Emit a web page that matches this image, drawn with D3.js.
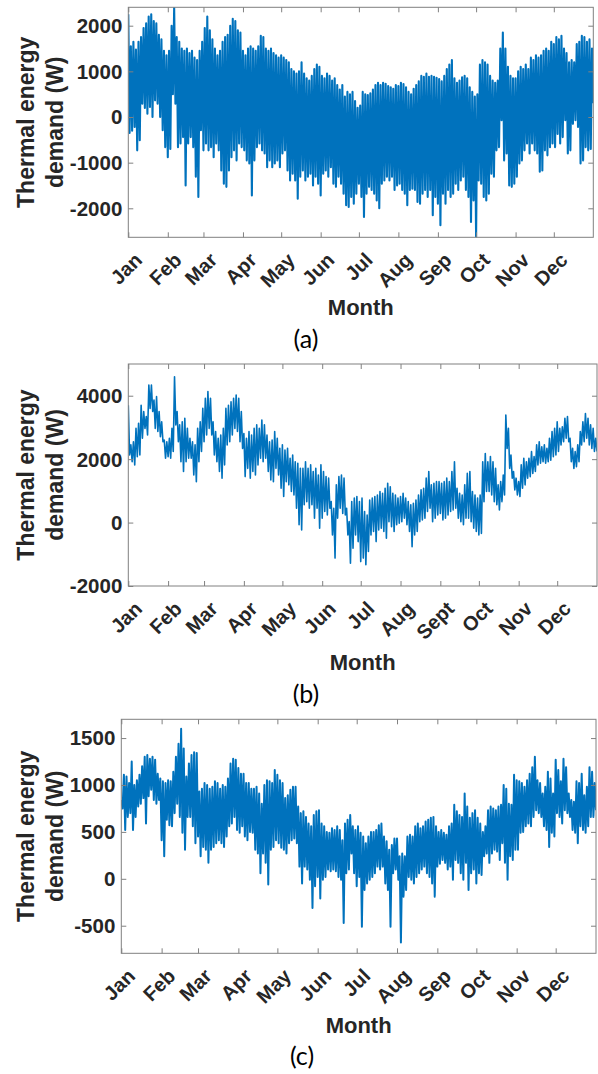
<!DOCTYPE html>
<html><head><meta charset="utf-8">
<script src="https://cdn.jsdelivr.net/npm/d3@7"></script>
<style>body{margin:0;background:#fff}svg{display:block}</style>
</head><body>
<svg id="chart" width="598" height="1074"></svg>
<script>
// ---------- data ----------
// month tick positions (day of year) and labels
const monthDays = [0,31,59,90,120,151,181,212,243,273,304,334];
const monthsA = ["Jan","Feb","Mar","Apr","May","Jun","Jul","Aug","Sep","Oct","Nov","Dec"];
const monthsB = ["Jan","Feb","Mar","Apr","May","Jun","Jul","Aug","Sept","Oct","Nov","Dec"];
const monthsC = ["Jan","Feb","Mar","Apr","May","Jun","Jul","Aug","Sep","Oct","Nov","Dec"];
const yTicksA = [-2000,-1000,0,1000,2000];
const yTicksB = [-2000,0,2000,4000];
const yTicksC = [-500,0,500,1000,1500];
// 2-day samples: upper (hi) and lower (lo) excursions of the hourly demand, W
const hiA = [2250,1550,1650,1480,1650,1750,1950,2050,2200,2250,2100,2050,1800,1700,1450,1350,1450,2000,2400,1750,1650,1500,1450,1500,1400,1450,1300,1250,1450,1650,1950,2200,1900,1700,1500,1350,1450,1650,1750,1800,2000,2150,2100,1900,1850,1450,1350,1500,1550,1500,1450,1550,1780,1750,1500,1450,1500,1400,1350,1300,1350,1300,1250,1200,1050,1000,950,1000,1200,950,850,800,900,1050,1150,1100,900,850,950,900,800,850,700,600,700,450,550,500,550,350,200,250,
550,500,480,520,600,700,750,700,750,730,680,650,620,700,680,750,720,650,550,500,620,700,780,900,880,950,880,900,880,860,830,780,900,1050,1150,1250,850,750,800,870,900,850,650,550,450,500,1150,1250,1200,1150,900,800,750,800,1500,1850,1500,1100,900,850,850,1000,1100,1050,1150,1050,1300,1250,1350,1300,1350,1450,1500,1450,1650,1600,1750,1700,1780,1500,1400,1200,1250,1200,1600,1650,1780,1750,1650,1700,1500];
const loA = [-350,-300,-220,-730,-510,290,200,70,220,0,365,290,0,-290,-660,-880,-700,500,290,-660,-580,-440,-1500,-580,-440,-660,-1310,-1750,-290,-730,-580,-730,-660,-880,-580,-730,-1170,-1460,-1530,-1170,-880,-730,-950,-580,-660,-730,-950,-1020,-1720,-950,-660,-580,-730,-800,-1100,-950,-1100,-1020,-950,-1100,-800,-730,-1170,-1390,-1240,-1390,-1790,-1310,-1170,-1390,-1310,-1240,-1500,-1310,-1460,-1720,-1240,-1170,-1310,-1100,-1460,-1530,-1310,-1460,-1680,-1930,-1970,-1750,-1900,-1680,-1460,
-1750,-2190,-1680,-1530,-1600,-1680,-1830,-2000,-1460,-1390,-1310,-1390,-1310,-1600,-1500,-1460,-1600,-1680,-1930,-1600,-1570,-1600,-1860,-1900,-1680,-1600,-1750,-1600,-2150,-1750,-1900,-2370,-1680,-1900,-1600,-1750,-1680,-1460,-1600,-1390,-1310,-1600,-1750,-2300,-1830,-2630,-1390,-1460,-1750,-1830,-1680,-1240,-1310,-730,-660,-70,-950,-800,-1500,-1530,-1460,-1310,-1020,-950,-730,-580,-800,-580,-730,-800,-1200,-1170,-730,-840,-660,-580,-660,-370,-580,-440,-70,-800,-730,-150,-70,-220,-1020,-950,-660,-730,-700,300];
const hiB = [3700,2450,2550,2970,3130,3700,3500,3340,4340,4340,3860,3970,3500,3180,2600,2550,2660,2970,4600,3500,3080,3180,3290,2970,2660,2550,2450,2970,3180,3600,3920,4130,3920,3180,2870,2660,2760,2970,3600,3700,3810,3920,4020,3920,3500,2810,2660,2870,2760,2970,3080,2970,3230,3080,2760,2550,2600,2870,2660,2340,2450,2290,2340,2030,2130,1920,1870,1710,1710,1920,1710,1820,1610,1710,1500,1820,1610,1450,1400,660,450,1190,1450,1500,1400,450,30,660,770,820,660,
770,350,240,710,770,820,870,980,920,1080,1240,1130,920,870,770,820,920,770,660,560,610,710,870,1030,1080,1400,1610,1190,1240,1290,1290,1240,1290,1400,1290,1610,1920,1080,920,870,1190,1550,1610,980,870,770,870,1920,2180,1920,2080,1920,1710,1190,1290,1500,3390,2970,2130,1610,1400,1290,1820,2030,1920,2030,2240,2080,2450,2550,2390,2450,2340,2660,2870,2970,3180,2970,3020,3290,3340,2660,2340,2240,2450,2870,3180,3440,3290,3080,2970,2660];
const loB = [2130,1920,1820,2080,2130,2660,2970,2760,3600,3500,2970,2870,2710,2550,2030,2080,2030,2240,3080,2550,1920,1610,1920,2030,2030,1500,1290,1920,2240,2550,2760,2970,2760,2130,1920,1610,1400,1820,2450,2550,2760,2970,2870,2550,2340,1450,1710,1400,1610,1500,1820,2030,1920,2030,1610,1340,1290,1710,1500,1080,820,1290,1190,980,870,450,-70,-230,560,660,450,560,140,450,-180,140,350,240,450,-390,-1120,140,450,290,240,-390,-1280,-810,-390,-600,-1230,
-1120,-1330,-910,-390,-280,-600,-230,-180,-280,-490,30,-130,-280,-70,-20,30,140,-70,-280,-760,-390,-280,30,80,140,350,450,30,140,240,290,80,140,240,350,400,450,140,30,-70,140,140,30,-180,-280,-390,-340,660,980,980,870,660,560,400,660,870,2340,1710,1400,1030,870,820,1080,1190,1400,1450,1550,1610,1820,1870,1920,1870,1920,1970,2080,2130,2240,2450,2550,2660,2550,1920,1710,1760,1920,2450,2550,2660,2450,2340,2240,2240];
const hiC = [840,1110,1090,1020,1250,1000,1050,1110,1200,1300,1320,1280,1300,1270,1120,1070,1040,1020,1050,1040,1140,1300,1440,1600,1390,1090,1230,1320,1350,1340,930,960,1020,1000,960,980,1040,1020,960,1000,980,1070,1230,1280,1270,1180,1120,1120,1020,1020,960,960,980,910,800,1000,1050,1040,1020,1160,1110,1050,1020,860,890,950,980,980,770,700,720,660,590,560,680,720,730,590,560,500,490,540,520,560,520,410,590,630,680,560,520,
560,490,450,380,450,500,500,520,570,590,450,400,310,360,430,430,240,270,240,450,470,450,560,590,540,560,610,630,650,660,560,500,520,490,470,560,590,790,720,680,660,910,770,650,700,730,650,590,500,560,730,770,750,730,770,790,1000,960,800,790,1110,1050,1040,1020,980,1050,1120,1190,1300,1050,1020,910,980,1140,1070,910,1270,1160,1040,1280,1190,910,840,820,1040,1020,1120,890,980,1190,1140,1020];
const loC = [750,520,660,700,520,660,770,800,860,590,880,950,840,800,840,410,240,630,570,560,700,800,660,490,310,660,660,560,380,450,240,340,310,170,310,340,380,410,380,340,450,560,590,660,520,490,560,450,410,500,490,310,270,60,270,170,-60,310,340,410,380,330,310,270,380,410,430,380,130,-50,130,100,-10,-310,-80,20,-210,-10,20,100,80,100,80,20,-10,-470,60,100,270,60,-80,
20,-510,-120,-50,-10,20,60,130,100,130,-50,-120,-510,60,100,-10,-680,-190,-120,20,-10,-50,20,60,100,130,60,20,-50,-190,130,160,200,170,100,130,-10,200,170,60,-10,170,-120,60,100,-50,60,40,240,270,170,270,310,290,200,380,170,-10,240,200,310,310,490,500,560,590,560,660,730,700,660,560,520,340,490,450,700,660,590,730,700,660,520,490,380,560,520,490,560,660,660,730];

// ---------- layout ----------
const svg = d3.select("#chart");
const BLUE = "#0072bd", TXT = "#262626", BOX = "#808080";
const FONT = "'Liberation Sans', Arial, sans-serif";
const panels = [
  {hi:hiA, lo:loA, months:monthsA, yTicks:yTicksA, yDom:[-2635,2403], sw:2.1,
   x0:128.3, x1:593.3, y0:7.3, y1:237.3, monthY:315, cap:"(a)", capX:306, capY:348},
  {hi:hiB, lo:loB, months:monthsB, yTicks:yTicksB, yDom:[-2000,5000], sw:1.6,
   x0:128.3, x1:597, y0:364, y1:586, monthY:670, cap:"(b)", capX:306, capY:703},
  {hi:hiC, lo:loC, months:monthsC, yTicks:yTicksC, yDom:[-794,1700], sw:2.0,
   x0:121.3, x1:596, y0:719.3, y1:953.3, monthY:1033, cap:"(c)", capX:302, capY:1065}
];

panels.forEach((p, k) => {
  const x = d3.scaleLinear().domain([0,365]).range([p.x0, p.x1]);
  const y = d3.scaleLinear().domain(p.yDom).range([p.y1, p.y0]);
  const g = svg.append("g");

  const clipId = "clip" + k;
  svg.append("clipPath").attr("id", clipId).append("rect")
    .attr("x", p.x0).attr("y", p.y0).attr("width", p.x1 - p.x0).attr("height", p.y1 - p.y0);

  // series: alternate upper / lower excursions
  const pts = [];
  p.hi.forEach((v, i) => {
    pts.push([2*i, v]);
    if (i < p.lo.length) pts.push([2*i + 1, p.lo[i]]);
  });
  g.append("path").datum(pts)
    .attr("clip-path", `url(#${clipId})`)
    .attr("fill", "none").attr("stroke", BLUE)
    .attr("stroke-width", p.sw)
    .attr("stroke-linejoin", "round")
    .attr("d", d3.line().x(d => x(d[0])).y(d => y(d[1])));

  // axes (ticks inward on all four sides)
  const ax = (gen, tx, ty) => {
    const a = g.append("g").attr("transform", `translate(${tx},${ty})`).call(gen);
    a.select(".domain").remove();
    a.selectAll(".tick line").attr("stroke", BOX);
    return a;
  };
  ax(d3.axisBottom(x).tickValues(monthDays).tickSizeInner(-5).tickSizeOuter(0).tickFormat(""), 0, p.y1);
  ax(d3.axisTop(x).tickValues(monthDays).tickSizeInner(-5).tickSizeOuter(0).tickFormat(""), 0, p.y0);
  ax(d3.axisLeft(y).tickValues(p.yTicks).tickSizeInner(-5).tickSizeOuter(0).tickFormat(""), p.x0, 0);
  ax(d3.axisRight(y).tickValues(p.yTicks).tickSizeInner(-5).tickSizeOuter(0).tickFormat(""), p.x1, 0);

  // box
  g.append("rect").attr("x", p.x0).attr("y", p.y0)
    .attr("width", p.x1 - p.x0).attr("height", p.y1 - p.y0)
    .attr("fill", "none").attr("stroke", BOX).attr("stroke-width", 1);

  // y tick labels
  g.selectAll(".ylab").data(p.yTicks).join("text")
    .attr("x", p.x0 - 6).attr("y", d => y(d)).attr("dy", "0.36em")
    .attr("text-anchor", "end")
    .style("font", `bold 20.5px ${FONT}`).attr("fill", TXT)
    .text(d => d);

  // x tick labels rotated
  g.selectAll(".xlab").data(monthDays).join("text")
    .attr("transform", (d) => `translate(${x(d) + 15},${p.y1 + 24}) rotate(-45)`)
    .attr("text-anchor", "end")
    .style("font", `bold 20px ${FONT}`).attr("fill", TXT)
    .text((d, i) => p.months[i]);

  // axis titles
  const cy = (p.y0 + p.y1) / 2;
  const yl = g.append("text").attr("transform", `translate(33.5,${cy}) rotate(-90)`)
    .attr("text-anchor", "middle")
    .style("font", `bold 23px ${FONT}`).attr("fill", TXT);
  yl.append("tspan").attr("x", 0).attr("y", 0).text("Thermal energy");
  yl.append("tspan").attr("x", 0).attr("y", 29.5).text("demand (W)");

  g.append("text").attr("x", (p.x0 + p.x1) / 2).attr("y", p.monthY)
    .attr("text-anchor", "middle")
    .style("font", `bold 22px ${FONT}`).attr("fill", TXT)
    .text("Month");

  g.append("text").attr("x", p.capX).attr("y", p.capY)
    .attr("text-anchor", "middle")
    .style("font", "25px Lato, 'Open Sans', sans-serif").attr("fill", "#000")
    .text(p.cap);
});
</script>
</body></html>
